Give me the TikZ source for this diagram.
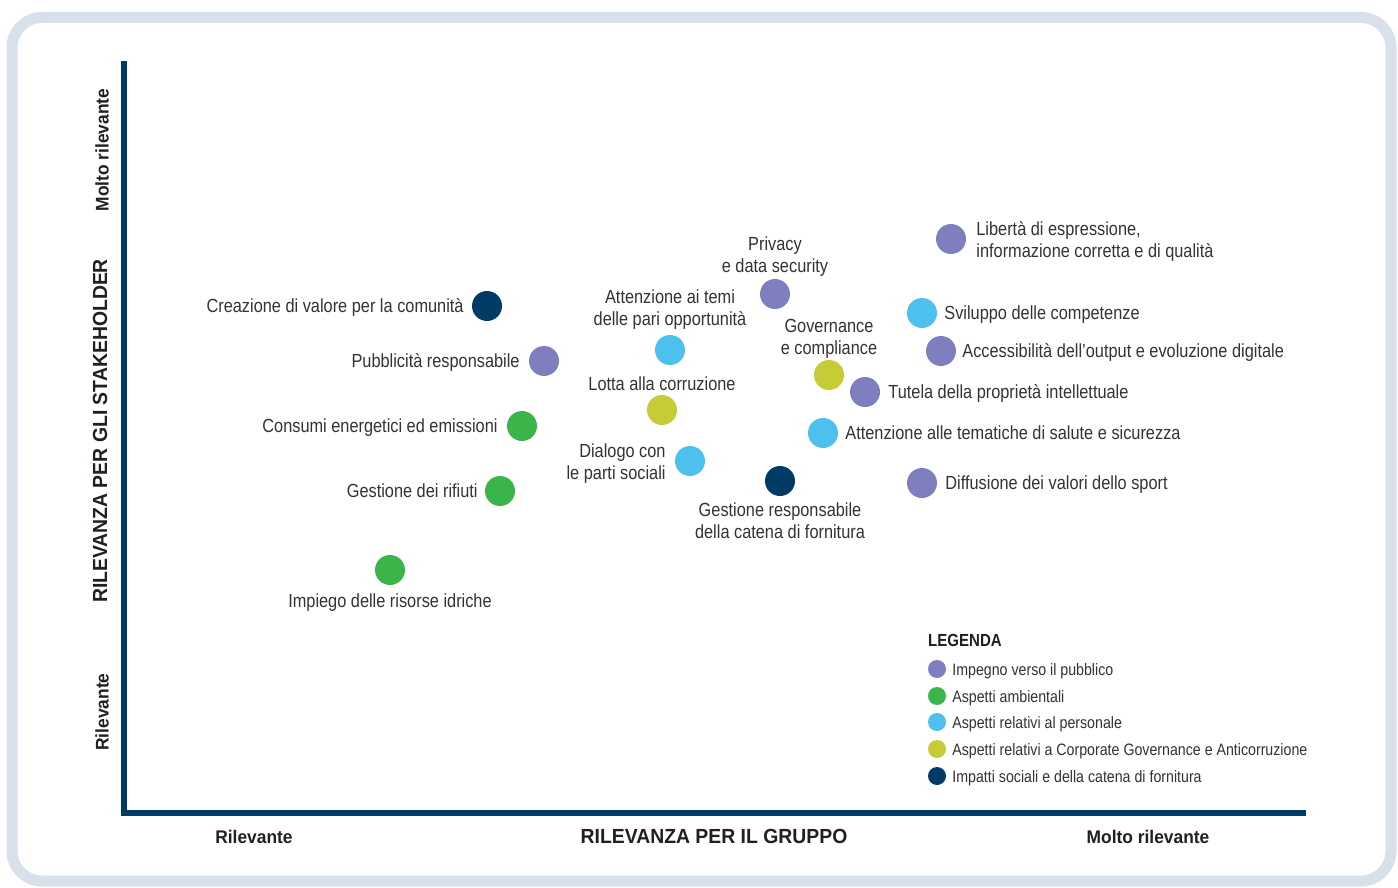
\documentclass[tikz,border=0pt]{standalone}
\usepackage{fontspec}
\setmainfont[FakeStretch=0.86]{Liberation Sans}
\newfontfamily\headfont[FakeStretch=0.95]{Liberation Sans}
\usetikzlibrary{positioning}
\definecolor{c_pub}{HTML}{7F7FBF}
\definecolor{c_amb}{HTML}{3BB54A}
\definecolor{c_per}{HTML}{4EC0EE}
\definecolor{c_gov}{HTML}{C5CC36}
\definecolor{c_sup}{HTML}{003B66}
\definecolor{c_frame}{HTML}{D7E0EB}
\definecolor{c_txt}{HTML}{333333}
\definecolor{c_head}{HTML}{231F20}
\tikzset{
  frame/.style = {draw=c_frame, line width=11pt, rounded corners=30pt},
  axis/.style = {draw=c_sup, line width=6pt},
  dot/.style = {circle, inner sep=0pt, minimum size=30pt},
  dot_p/.style = {dot, fill=c_pub},
  dot_a/.style = {dot, fill=c_amb},
  dot_c/.style = {dot, fill=c_per},
  dot_g/.style = {dot, fill=c_gov},
  dot_n/.style = {dot, fill=c_sup},
  lgd_dot/.style = {circle, inner sep=0pt, minimum size=18pt},
  lbl/.style = {inner sep=0pt, text=c_txt, font=\fontsize{19}{22}\selectfont, text height=16pt, text depth=3pt},
  lbl_m/.style = {inner sep=0pt, text=c_txt, font=\fontsize{19}{22}\selectfont},
  lgd_lbl/.style = {inner sep=0pt, text=c_txt, font=\fontsize{16.5}{20}\selectfont, text height=14pt, text depth=1.5pt},
  lgd_head/.style = {inner sep=0pt, text=c_head, font=\fontsize{17.5}{20}\selectfont\bfseries},
  head/.style = {inner sep=0pt, text=c_head, font=\headfont\fontsize{18.3}{20}\selectfont\bfseries},
  title/.style = {inner sep=0pt, text=c_head, font=\headfont\fontsize{20.4}{22}\selectfont\bfseries}
}

\begin{document}
\begin{tikzpicture}[x=1pt, y=-1pt]
	\useasboundingbox[fill=white] (0,0) rectangle (1398,888);
	\draw[frame] (12,17.5) rectangle (1391,881);
	% assi
	\coordinate (y_top) at (123.5,61);
	\coordinate (orig) at (123.5,813);
	\coordinate (x_end) at (1306,813);
	\draw[axis] (y_top) -- (orig) -- (x_end);
	\node[head, rotate=90] (y_hi) at (102,150) {Molto rilevante};
	\node[head, rotate=90] (y_lo) at (102,712) {Rilevante};
	\node[title, rotate=90] (y_title) at (100,431) {RILEVANZA PER GLI STAKEHOLDER};
	\node[head] (x_lo) at (254,837) {Rilevante};
	\node[title] (x_title) at (714,836) {RILEVANZA PER IL GRUPPO};
	\node[head] (x_hi) at (1148,837) {Molto rilevante};

	% temi materiali
	\node[dot_n] (crea) at (487,306) {};
	\node[lbl, left=8pt of crea] (crea_l) {Creazione di valore per la comunità};
	\node[dot_p] (pubb) at (544,361) {};
	\node[lbl, left=9pt of pubb] (pubb_l) {Pubblicità responsabile};
	\node[dot_a] (cons) at (522,426) {};
	\node[lbl, left=9pt of cons] (cons_l) {Consumi energetici ed emissioni};
	\node[dot_a] (rifi) at (500,491) {};
	\node[lbl, left=7pt of rifi] (rifi_l) {Gestione dei rifiuti};
	\node[dot_a] (idri) at (390,570) {};
	\node[lbl, below=6pt of idri] (idri_l) {Impiego delle risorse idriche};

	\node[dot_c] (pari) at (670,350) {};
	\node[lbl_m, align=center, above=5pt of pari] (pari_l) {Attenzione ai temi\\delle pari opportunità};
	\node[dot_g] (corr) at (662,410) {};
	\node[lbl_m, above=4pt of corr] (corr_l) {Lotta alla corruzione};
	\node[dot_c] (dial) at (690,461) {};
	\node[lbl_m, align=right, left=9pt of dial, yshift=-3pt] (dial_l) {Dialogo con\\le parti sociali};
	\node[dot_p] (priv) at (775,294) {};
	\node[lbl_m, align=center, above=2pt of priv] (priv_l) {Privacy\\e data security};
	\node[dot_g] (gove) at (829,375) {};
	\node[lbl_m, align=center, above=1pt of gove] (gove_l) {Governance\\e compliance};
	\node[dot_n] (forn) at (780,481) {};
	\node[lbl_m, align=center, below=6pt of forn] (forn_l) {Gestione responsabile\\della catena di fornitura};

	\node[dot_p] (tute) at (865,392) {};
	\node[lbl, right=8pt of tute] (tute_l) {Tutela della proprietà intellettuale};
	\node[dot_c] (salu) at (823,433) {};
	\node[lbl, right=7pt of salu] (salu_l) {Attenzione alle tematiche di salute e sicurezza};
	\node[dot_p] (spor) at (922,483) {};
	\node[lbl, right=8pt of spor] (spor_l) {Diffusione dei valori dello sport};
	\node[dot_p] (libe) at (951,239) {};
	\node[lbl_m, align=left, right=10pt of libe, yshift=-2pt] (libe_l) {Libertà di espressione,\\informazione corretta e di qualità};
	\node[dot_c] (svil) at (922,313) {};
	\node[lbl, right=7pt of svil] (svil_l) {Sviluppo delle competenze};
	\node[dot_p] (acce) at (941,351) {};
	\node[lbl, right=6pt of acce] (acce_l) {Accessibilità dell’output e evoluzione digitale};

	% legenda
	\node[lgd_head, anchor=west] (lgd) at (928,640) {LEGENDA};
	\node[lgd_dot, fill=c_pub] (lgd_1) at (937,669) {};
	\node[lgd_lbl, right=6pt of lgd_1] (lgd_1l) {Impegno verso il pubblico};
	\node[lgd_dot, fill=c_amb] (lgd_2) at (937,696) {};
	\node[lgd_lbl, right=6pt of lgd_2] (lgd_2l) {Aspetti ambientali};
	\node[lgd_dot, fill=c_per] (lgd_3) at (937,722) {};
	\node[lgd_lbl, right=6pt of lgd_3] (lgd_3l) {Aspetti relativi al personale};
	\node[lgd_dot, fill=c_gov] (lgd_4) at (937,749) {};
	\node[lgd_lbl, right=6pt of lgd_4] (lgd_4l) {Aspetti relativi a Corporate Governance e Anticorruzione};
	\node[lgd_dot, fill=c_sup] (lgd_5) at (937,776) {};
	\node[lgd_lbl, right=6pt of lgd_5] (lgd_5l) {Impatti sociali e della catena di fornitura};
\end{tikzpicture}
\end{document}
